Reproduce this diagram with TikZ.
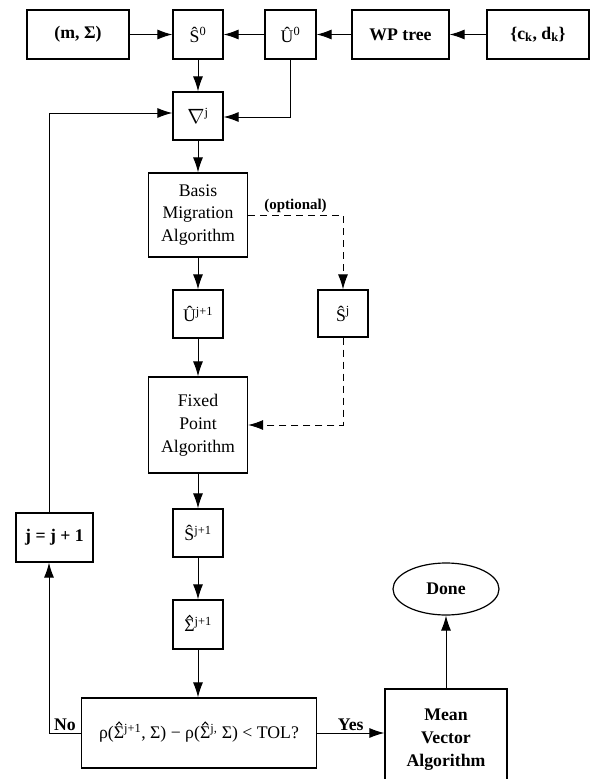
\documentclass[tikz,border=0pt]{standalone}
\usepackage{fontspec}
\setmainfont{Liberation Serif}
\usetikzlibrary{arrows.meta,shapes.geometric}
\newcommand\hatsig{\makebox[0pt][l]{\tikz[overlay,x=1bp,y=1bp]\draw[line width=1bp,line join=miter] (2.3,13) -- (5.3,16.3) -- (8.3,13);}Σ}
\begin{document}
\begin{tikzpicture}[x=1bp,y=-1bp,
  bx/.style 2 args={draw,line width=1.2bp,minimum width=#1,minimum height=#2,inner sep=0pt,align=center,font=\fontsize{17.8}{23}\selectfont},
  bf/.style={font=\fontsize{17.8}{23}\selectfont\bfseries},
  arr/.style={line width=1bp,-{Latex[length=15bp,width=10bp]}},
  dsh/.style={line width=1bp,dash pattern=on 7bp off 5bp,-{Latex[length=15bp,width=10bp]}},
  lbl/.style={font=\fontsize{17.8}{20}\selectfont\bfseries,inner sep=2bp}]
\useasboundingbox (0,0) rectangle (590,779);
\node[bx={102bp}{49bp},bf] (msig) at (78,34.5) {(m, Σ)};
\node[bx={50bp}{49bp}] (s0) at (198,34.5) {\^{S}\textsuperscript{0}};
\node[bx={51bp}{49bp}] (u0) at (290.5,34.5) {\^{U}\textsuperscript{0}};
\node[bx={97bp}{49bp},bf] (wp) at (400.5,34.5) {WP tree};
\node[bx={102bp}{49bp},bf] (ck) at (538,34.5) {\{c\textsubscript{k}, d\textsubscript{k}\}};
\node[bx={50bp}{48bp}] (nab) at (198,116) {\fontsize{22}{23}\selectfont$\nabla$\fontsize{17.8}{23}\selectfont\textsuperscript{j}};
\node[bx={99bp}{84bp}] (bma) at (198,215) {Basis\\Migration\\Algorithm};
\node[bx={50bp}{48bp}] (uj1) at (198,314) {\^{U}\textsuperscript{j+1}};
\node[bx={50bp}{47bp}] (sj) at (343,313.5) {\^{S}\textsuperscript{j}};
\node[bx={99bp}{96bp}] (fpa) at (198,425) {Fixed\\Point\\Algorithm};
\node[bx={50bp}{48bp}] (sj1) at (198,533) {\^{S}\textsuperscript{j+1}};
\node[bx={50bp}{49bp}] (sig) at (198,624.5) {\hatsig\textsuperscript{j+1}};
\node[bx={235bp}{70bp}] (cond) at (199,733) {ρ(\hatsig\textsuperscript{j+1}, Σ) − ρ(\hatsig\textsuperscript{j,} Σ) < TOL?};
\node[bx={77bp}{49bp},bf] (jb) at (54.5,537.5) {j = j + 1};
\node[bx={122bp}{101bp},bf] (mva) at (446,739.5) {Mean\\Vector\\Algorithm};
\node[draw,ellipse,line width=1.2bp,minimum width=106bp,minimum height=52bp,inner sep=0pt,bf] (done) at (446,589) {Done};
% top row
\draw[arr] (msig.east) -- (s0.west);
\draw[arr] (u0.west) -- (s0.east);
\draw[arr] (wp.west) -- (u0.east);
\draw[arr] (ck.west) -- (wp.east);
\draw[arr] (s0.south) -- (nab.north);
\draw[arr] (u0.south) |- ([yshift=-1bp]nab.east);
% main column
\draw[arr] (nab.south) -- (bma.north);
\draw[arr] (bma.south) -- (uj1.north);
\draw[arr] (uj1.south) -- (fpa.north);
\draw[arr] (fpa.south) -- (sj1.north);
\draw[arr] (sj1.south) -- (sig.north);
\draw[arr] (sig.south) -- (sig.south |- cond.north);
% optional branch
\draw[dsh] (bma.east) -| node[pos=0.25,above,font=\fontsize{15}{18}\selectfont\bfseries,inner sep=2bp] {(optional)} (sj.north);
\draw[dsh] (sj.south) |- (fpa.east);
% loop
\draw[arr] (cond.west) -| node[pos=0.25,above,lbl] {No} ([xshift=-5.5bp]jb.south);
\draw[arr] ([xshift=-5.5bp]jb.north) |- ([yshift=3bp]nab.west);
% exit
\draw[arr] (cond.east) -- node[above,lbl] {Yes} (cond.east -| mva.west);
\draw[arr] (mva.north) -- (done.south);
\end{tikzpicture}
\end{document}
